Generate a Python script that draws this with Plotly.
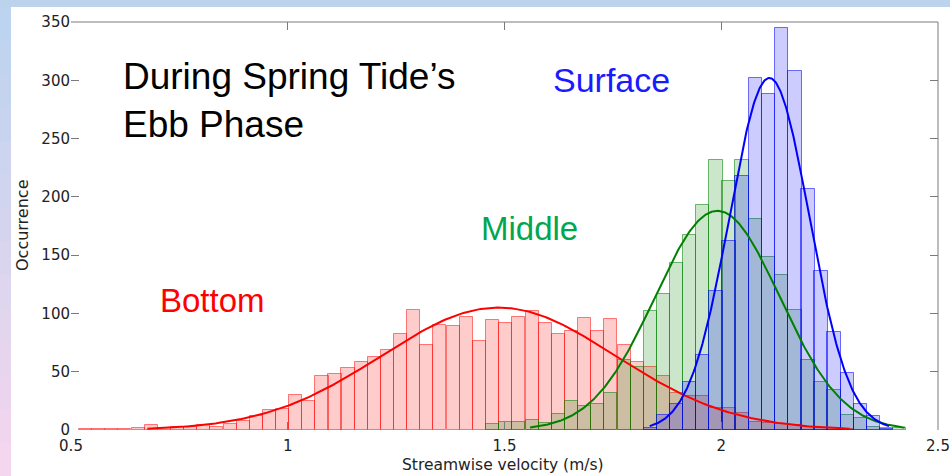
import numpy as np
import plotly.graph_objects as go

# ---------------- data ----------------
bin_width = 0.0303
bin_centers = [0.533, 0.564, 0.594, 0.624, 0.655, 0.685, 0.715, 0.745, 0.776, 0.806,
               0.836, 0.867, 0.897, 0.927, 0.958, 0.988, 1.018, 1.048, 1.079, 1.109,
               1.139, 1.170, 1.200, 1.230, 1.261, 1.291, 1.321, 1.351, 1.382, 1.412,
               1.442, 1.473, 1.503, 1.533, 1.564, 1.594, 1.624, 1.654, 1.685, 1.715,
               1.745, 1.776, 1.806, 1.836, 1.867, 1.897, 1.927, 1.957, 1.988, 2.018,
               2.048, 2.079, 2.109, 2.139, 2.170, 2.200, 2.230, 2.260, 2.291, 2.321,
               2.351, 2.382, 2.412]

bottom_first_bin = 0
bottom_counts = [1, 1, 1, 1, 2, 4, 2, 3, 3, 4, 3, 5, 8, 12, 17, 18,
                 30, 25, 46, 48, 53, 58, 63, 69, 82, 103, 73, 90, 89, 97, 76, 94,
                 92, 97, 102, 92, 82, 85, 96, 85, 95, 73, 58, 54, 46, 32,
                 29, 29, 19, 19, 15, 7, 6, 5, 4, 3, 2, 2, 1]

middle_first_bin = 31
middle_counts = [5, 7, 7, 9, 6, 14, 25, 21, 22, 32, 60, 54, 102, 117, 143, 167,
                 193, 232, 214, 232, 181, 148, 133, 103, 60, 41, 34, 13, 10, 3, 2, 2]

surface_first_bin = 43
surface_counts = [2, 13, 22, 41, 64, 119, 162, 218, 302, 288, 345, 308, 207,
                  136, 84, 49, 22, 12, 1]

# fitted normal curves (mean, standard deviation, peak count)
fit_mean = {"Bottom": 1.486, "Middle": 1.991, "Surface": 2.111}
fit_sd = {"Bottom": 0.270, "Middle": 0.144, "Surface": 0.092}
fit_peak = {"Bottom": 105, "Middle": 188, "Surface": 302}

x_ticks = [0.5, 1, 1.5, 2, 2.5]
x_tick_labels = ["0.5", "1", "1.5", "2", "2.5"]
y_ticks = [0, 50, 100, 150, 200, 250, 300, 350]

# ---------------- styling ----------------
W, H = 950, 476
ML, MR, MT, MB = 71, 12, 22, 46
PW, PH = W - ML - MR, H - MT - MB
FONT = "Liberation Sans, Arial, sans-serif"
AXFONT = "DejaVu Sans, Verdana, sans-serif"

def px_x(px):
    return (px - ML) / PW

def px_y(py):
    return (H - MB - py) / PH

series = [
    ("Bottom", bottom_first_bin, bottom_counts, "rgba(255,0,0,0.2)", "rgba(255,0,0,0.5)", "#ff0000"),
    ("Middle", middle_first_bin, middle_counts, "rgba(0,128,0,0.2)", "rgba(0,128,0,0.55)", "#008000"),
    ("Surface", surface_first_bin, surface_counts, "rgba(0,0,255,0.2)", "rgba(0,0,255,0.55)", "#0000ff"),
]

fig = go.Figure()
for name, first, counts, face, edge, _ in series:
    xs = bin_centers[first:first + len(counts)]
    fig.add_trace(go.Bar(x=xs, y=counts, width=bin_width, name=name,
                         marker=dict(color=face, line=dict(color=edge, width=1)),
                         showlegend=False))
for name, _, _, _, _, lc in series:
    mu, sd, pk = fit_mean[name], fit_sd[name], fit_peak[name]
    xc = np.linspace(mu - 3 * sd, mu + 3 * sd, 300)
    yc = pk * np.exp(-0.5 * ((xc - mu) / sd) ** 2)
    fig.add_trace(go.Scatter(x=xc, y=yc, mode="lines", line=dict(color=lc, width=2),
                             showlegend=False, hoverinfo="skip"))

shapes = []
# white slide panel
shapes.append(dict(type="rect", xref="paper", yref="paper", layer="below",
                   x0=px_x(11), x1=px_x(W + 5), y0=px_y(H + 5), y1=px_y(7),
                   fillcolor="white", line=dict(width=0)))
# left gradient strip (blue -> pink)
nstep = 14
c_top = np.array([188, 212, 240])
c_bot = np.array([244, 214, 238])
for i in range(nstep):
    t = i / (nstep - 1)
    c = (c_top * (1 - t) + c_bot * t).astype(int)
    y0p = 7 + (H - 7) * i / nstep
    y1p = 7 + (H - 7) * (i + 1) / nstep
    shapes.append(dict(type="rect", xref="paper", yref="paper", layer="below",
                       x0=px_x(-5), x1=px_x(11), y0=px_y(y1p + 0.5), y1=px_y(y0p),
                       fillcolor=f"rgb({c[0]},{c[1]},{c[2]})", line=dict(width=0)))
# top and right box lines
shapes.append(dict(type="line", xref="paper", yref="paper", x0=0, x1=1, y0=1, y1=1,
                   line=dict(color="#7a7a7a", width=1)))
shapes.append(dict(type="line", xref="paper", yref="paper", x0=1, x1=1, y0=0, y1=1,
                   line=dict(color="#7a7a7a", width=1)))

def label(text, cx, cy, size, color, family=FONT, xanchor="center", **kw):
    return dict(text=text, x=px_x(cx), y=px_y(cy), xref="paper", yref="paper",
                xanchor=xanchor, yanchor="middle", showarrow=False,
                font=dict(family=family, size=size, color=color), **kw)

annotations = [
    label("During Spring Tide’s<br>Ebb Phase", 121, 100, 37, "black", xanchor="left", align="left"),
    label("Surface", 611, 80, 34, "#1a1aff"),
    label("Middle", 529.5, 228, 33, "#00a650"),
    label("Bottom", 212.5, 300, 33, "#ff0000"),
    label("Streamwise velocity (m/s)", 503, 465, 15.5, "#222", family=AXFONT),
    label("Occurrence", 22, 226, 16, "#222", family=AXFONT, textangle=-90),
]

fig.update_layout(
    width=W, height=H, margin=dict(l=ML, r=MR, t=MT, b=MB, autoexpand=False),
    paper_bgcolor="rgb(188,211,238)", plot_bgcolor="white",
    barmode="overlay", bargap=0,
    shapes=shapes, annotations=annotations,
    xaxis=dict(range=[0.5, 2.5], tickvals=x_ticks, ticktext=x_tick_labels,
               ticks="inside", ticklen=8, tickcolor="#7a7a7a", mirror="ticks",
               showline=False, showgrid=False, zeroline=False, ticklabelstandoff=5,
               tickfont=dict(family=AXFONT, size=15, color="#222")),
    yaxis=dict(range=[0, 350], tickvals=y_ticks,
               ticks="inside", ticklen=8, tickcolor="#7a7a7a", mirror="ticks",
               showline=False, showgrid=False, zeroline=False,
               tickfont=dict(family=AXFONT, size=15, color="#222")),
)

fig.write_html("out.html", config={"displayModeBar": False},
               post_script="document.body.style.margin='0px';")
